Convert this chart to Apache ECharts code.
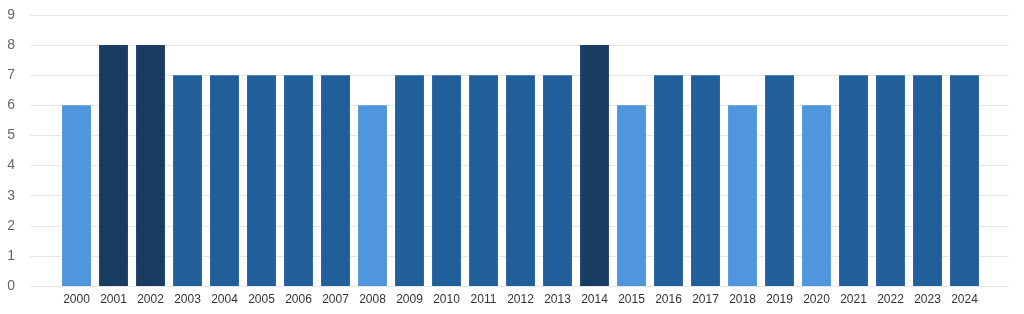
<!DOCTYPE html>
<html><head><meta charset="utf-8">
<script src="https://cdn.jsdelivr.net/npm/echarts@6/dist/echarts.min.js"></script>
<style>html,body{margin:0;padding:0;background:#fff}#c{width:1024px;height:314px}</style>
</head><body><div id="c"></div>
<script>
const years = ['2000','2001','2002','2003','2004','2005','2006','2007','2008','2009','2010','2011','2012','2013','2014','2015','2016','2017','2018','2019','2020','2021','2022','2023','2024'];
const values = [6,8,8,7,7,7,7,7,6,7,7,7,7,7,8,6,7,7,6,7,6,7,7,7,7];
const colorByValue = {6:'#5096dc', 7:'#215f9b', 8:'#183c62'};
const chart = echarts.init(document.getElementById('c'));
chart.setOption({
  animation:false,
  grid:[
    {left:30,right:15,top:15,bottom:28},
    {left:58,right:41,top:15,bottom:28}
  ],
  xAxis:[
    {gridIndex:0,type:'value',min:0,max:1,show:false},
    {gridIndex:1,type:'category',data:years,
     axisLine:{show:false},axisTick:{show:false},
     axisLabel:{color:'#333',fontSize:12,margin:8,fontFamily:'"Liberation Sans", Arial, sans-serif'}}
  ],
  yAxis:[
    {gridIndex:0,type:'value',min:0,max:9,interval:1,
     axisLine:{show:false},axisTick:{show:false},
     axisLabel:{color:'#666',fontSize:14,margin:15,fontFamily:'"Liberation Sans", Arial, sans-serif'},
     splitLine:{lineStyle:{color:'#e6e6e6',width:1}}},
    {gridIndex:1,type:'value',min:0,max:9,interval:1,show:false,splitLine:{show:false}}
  ],
  series:[{
    type:'bar',xAxisIndex:1,yAxisIndex:1,
    barCategoryGap:'22%',
    data:values.map(v=>({value:v,itemStyle:{color:colorByValue[v]}}))
  }]
});
</script></body></html>
